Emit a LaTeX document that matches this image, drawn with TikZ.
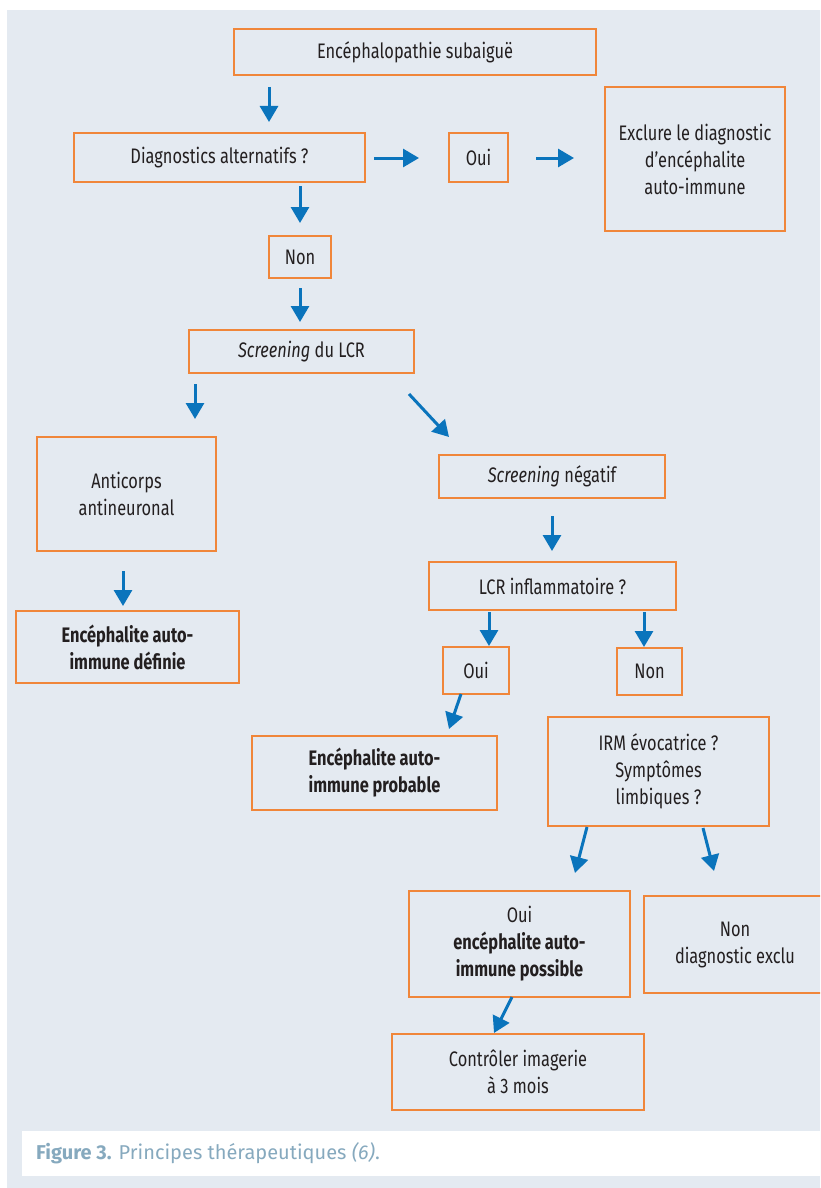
\documentclass[tikz,border=0pt]{standalone}
\usepackage{fontspec}
\setmainfont{Fira Sans}[FakeStretch=0.78]
\newfontfamily\capfont{Fira Sans}
\usetikzlibrary{arrows.meta}
\definecolor{bgcol}{HTML}{E4EAF1}
\definecolor{boxorange}{HTML}{F0863A}
\definecolor{arrowblue}{HTML}{0A74BC}
\definecolor{txtcol}{HTML}{231F20}
\definecolor{capcol}{HTML}{86A9BE}
\tikzset{
  box/.style={draw=boxorange, line width=1.4pt, align=center, inner sep=0pt,
    text=txtcol, font=\fontsize{21}{27}\selectfont},
  arr/.style={draw=arrowblue, line width=3pt, -{Triangle[width=18pt,length=16pt]}},
}
\newcommand{\bx}[6]{% name, x1, x2, y1, y2, text
  \node[box, minimum width=#3pt-#2pt, minimum height=#5pt-#4pt] (#1) at ({(#2+#3)/2},{(#4+#5)/2}) {#6};}
\begin{document}
\begin{tikzpicture}[x=1pt,y=-1pt]
\useasboundingbox (0,0) rectangle (820,1188);
\clip (0,0) rectangle (820,1188);
\fill[bgcol] (7,10) rectangle (822,1190);
\fill[white] (22,1131) rectangle (822,1176);
\node[anchor=base west, inner sep=0pt, text=capcol, font=\capfont\fontsize{20}{22}\selectfont] (caption) at (36,1159)
  {\textbf{Figure 3.} Principes thérapeutiques \textit{(6)}.};

\bx{enc}{234}{596}{29}{75}{Encéphalopathie subaiguë}
\bx{diag}{74}{365}{133}{182}{Diagnostics alternatifs ?}
\bx{ouiA}{449}{508}{133}{182}{Oui}
\bx{excl}{605}{785}{87}{231}{Exclure le diagnostic\\d’encéphalite\\auto-immune}
\bx{nonA}{269}{331}{236}{278}{Non}
\bx{scr}{189}{414}{330}{373}{\textit{Screening} du LCR}
\bx{anti}{37}{216}{437}{551}{Anticorps\\antineuronal}
\bx{neg}{439}{665}{455}{498}{\textit{Screening} négatif}
\bx{def}{16}{239}{611}{683}{\textbf{Encéphalite auto-}\\\textbf{immune définie}}
\bx{lcr}{429}{676}{562}{610}{LCR inflammatoire ?}
\bx{ouiB}{443}{509}{647}{694}{Oui}
\bx{nonB}{617}{682}{648}{695}{Non}
\bx{prob}{252}{497}{736}{810}{\textbf{Encéphalite auto-}\\\textbf{immune probable}}
\bx{irm}{548}{769}{717}{826}{IRM évocatrice ?\\Symptômes\\limbiques ?}
\bx{poss}{409}{630}{891}{997}{Oui\\\textbf{encéphalite auto-}\\\textbf{immune possible}}
\bx{nonex}{644}{826}{896}{993}{Non\\diagnostic exclu}
\bx{ctrl}{392}{644}{1034}{1110}{Contrôler imagerie\\à 3 mois}

% arrows (free-standing)
\coordinate (a1s) at (269,87);   \coordinate (a1e) at (269,122);
\coordinate (a2s) at (374,158);  \coordinate (a2e) at (419,158);
\coordinate (a3s) at (536,158);  \coordinate (a3e) at (574,158);
\coordinate (a4s) at (300,186);  \coordinate (a4e) at (300,223);
\coordinate (a5s) at (300,288);  \coordinate (a5e) at (300,322);
\coordinate (a6s) at (195,384);  \coordinate (a6e) at (195,419);
\coordinate (a7s) at (409,394);  \coordinate (a7e) at (449,437);
\coordinate (a8s) at (552,516);  \coordinate (a8e) at (552,551);
\coordinate (a9s) at (123,571);  \coordinate (a9e) at (123,606);
\coordinate (a10s) at (489,612); \coordinate (a10e) at (489,646);
\coordinate (a11s) at (644,612); \coordinate (a11e) at (644,647);
\coordinate (a12s) at (461,694); \coordinate (a12e) at (449,729);
\coordinate (a13s) at (587,827); \coordinate (a13e) at (575,873);
\coordinate (a14s) at (703,828); \coordinate (a14e) at (714,871);
\coordinate (a15s) at (512,997); \coordinate (a15e) at (494,1033);
\foreach \i in {1,...,15}{\draw[arr] (a\i s) -- (a\i e);}
\end{tikzpicture}
\end{document}
